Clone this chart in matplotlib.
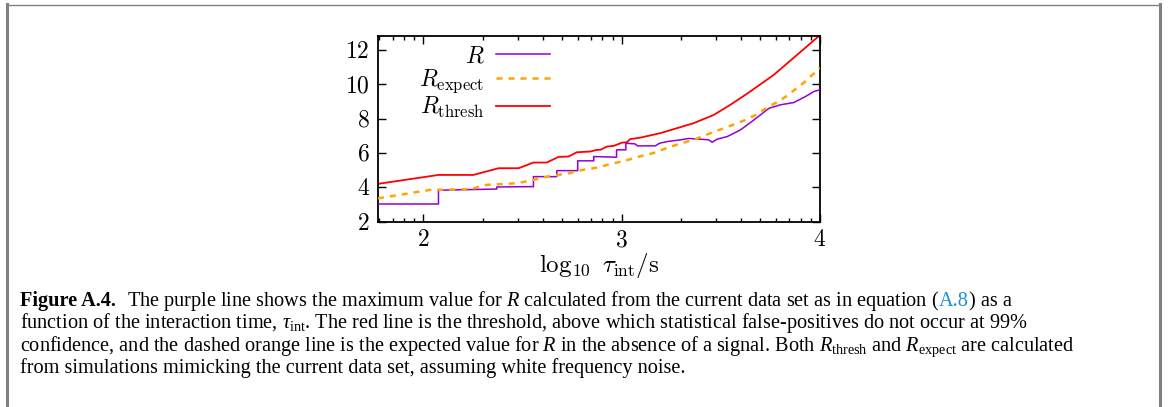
import numpy as np
import matplotlib as mpl
import matplotlib.pyplot as plt
from matplotlib.lines import Line2D
from matplotlib.ticker import LogLocator, NullFormatter, NullLocator

# fonts: Computer Modern look for the plot, Times-like serif for the caption
mpl.rcParams['mathtext.fontset'] = 'cm'
mpl.rcParams['mathtext.rm'] = 'Liberation Serif'
mpl.rcParams['mathtext.it'] = 'Liberation Serif:italic'
mpl.rcParams['mathtext.bf'] = 'Liberation Serif:bold'
mpl.rcParams['font.family'] = 'Liberation Serif'

# data, x = log10(tau_int / s)
r_x = [1.771, 2.076, 2.076, 2.37, 2.37, 2.555, 2.555, 2.673, 2.673, 2.778,
       2.778, 2.859, 2.859, 2.974, 2.974, 3.021, 3.021, 3.066, 3.08, 3.17,
       3.19, 3.229, 3.296, 3.338, 3.397, 3.439, 3.456, 3.481, 3.532, 3.599,
       3.667, 3.743, 3.801, 3.868, 3.927, 3.969, 4.0]
r_y = [3.03, 3.03, 3.83, 3.90, 4.02, 4.04, 4.62, 4.62, 4.97, 4.97,
       5.54, 5.54, 5.79, 5.75, 6.18, 6.18, 6.56, 6.53, 6.41, 6.41,
       6.56, 6.66, 6.76, 6.84, 6.80, 6.76, 6.62, 6.80, 6.95, 7.34,
       7.92, 8.60, 8.80, 8.93, 9.28, 9.57, 9.67]

exp_x = [1.771, 1.90, 2.034, 2.15, 2.236, 2.32, 2.40, 2.471, 2.539, 2.623,
         2.735, 2.802, 2.878, 2.946, 3.018, 3.089, 3.156, 3.224, 3.291, 3.363,
         3.426, 3.493, 3.560, 3.624, 3.675, 3.742, 3.805, 3.851, 3.92, 4.0]
exp_y = [3.36, 3.60, 3.85, 3.87, 3.89, 4.14, 4.19, 4.24, 4.39, 4.62,
         4.82, 5.01, 5.15, 5.36, 5.55, 5.79, 5.98, 6.27, 6.53, 6.76,
         7.05, 7.34, 7.63, 7.92, 8.21, 8.70, 9.09, 9.48, 10.1, 10.95]

thr_x = [1.771, 2.076, 2.252, 2.379, 2.480, 2.555, 2.622, 2.682, 2.732, 2.774,
         2.841, 2.875, 2.892, 2.926, 2.960, 3.002, 3.027, 3.042, 3.094, 3.195,
         3.279, 3.363, 3.464, 3.548, 3.633, 3.767, 3.885, 4.0]
thr_y = [4.20, 4.72, 4.72, 5.11, 5.11, 5.44, 5.44, 5.77, 5.79, 6.04,
         6.08, 6.18, 6.18, 6.37, 6.41, 6.60, 6.62, 6.80, 6.89, 7.15,
         7.44, 7.73, 8.21, 8.80, 9.45, 10.54, 11.71, 12.85]

x_ticks = [2, 3, 4]
y_ticks = [2, 4, 6, 8, 10, 12]

W, H = 1168, 407
fig = plt.figure(figsize=(W / 100, H / 100), dpi=100)
ax = fig.add_axes([378 / W, 1 - 221.7 / H, 442 / W, 185.7 / H])

ax.plot(10 ** np.array(r_x), r_y, color='#9400d3', lw=1.1, label=r'$R$', zorder=3)
ax.plot(10 ** np.array(exp_x), exp_y, color='#ffa500', lw=1.8, ls=(0, (2.4, 2.4)),
        label=r'$R_{\rm expect}$', zorder=4)
ax.plot(10 ** np.array(thr_x), thr_y, color='#ff0000', lw=1.3,
        label=r'$R_{\rm thresh}$', zorder=2)

ax.set_xscale('log')
ax.set_xlim(10 ** 1.771, 10 ** 4)
ax.set_ylim(2, 12.8)
ax.set_xticks([10 ** t for t in x_ticks])
ax.set_xticklabels(['$%d$' % t for t in x_ticks])
ax.xaxis.set_minor_locator(LogLocator(base=10, subs=np.arange(2, 10)))
ax.xaxis.set_minor_formatter(NullFormatter())
ax.set_yticks(y_ticks)
ax.set_yticklabels(['$%d$' % t for t in y_ticks])
ax.yaxis.set_minor_locator(NullLocator())
ax.tick_params(which='both', direction='in', top=True, right=True, labelsize=17, width=1.0)
ax.tick_params(which='major', length=5.5, pad=6)
ax.tick_params(which='minor', length=3)
for s in ax.spines.values():
    s.set_linewidth(1.3)

ax.set_xlabel(r'$\log_{10}\ \tau_{\rm int}/{\rm s}$', fontsize=18, labelpad=0)

leg = ax.legend(loc='upper right', bbox_to_anchor=(0.39, 0.945), frameon=False,
                markerfirst=False, fontsize=17, handlelength=2.3, handletextpad=0.5,
                labelspacing=0.0, borderpad=0, borderaxespad=0)

# outer frame of the figure box
grey = '#808080'
fig.add_artist(Line2D([7 / W, 7 / W], [0, 1 - 4 / H], color=grey, lw=2.2))
fig.add_artist(Line2D([7 / W, 1160 / W], [1 - 4.5 / H, 1 - 4.5 / H], color=grey, lw=1.0))
fig.add_artist(Line2D([1159.5 / W, 1159.5 / W], [0, 1 - 4 / H], color=grey, lw=2.2))

# caption
cap = 14.6
renderer = fig.canvas.get_renderer()


def put_line(parts, x_px, y_px):
    x = x_px
    for txt, kw in parts:
        t = fig.text(x / W, 1 - y_px / H, txt, fontsize=cap, va='baseline',
                     math_fontfamily='custom', **kw)
        x = t.get_window_extent(renderer).x1
    return x


x0 = 20
t = fig.text(x0 / W, 1 - 306 / H, 'Figure A.4.', fontsize=cap, va='baseline', weight='bold')
xb = t.get_window_extent(renderer).x1 + 11
put_line([('The purple line shows the maximum value for $R$ calculated from the current '
           'data set as in equation (', {}),
          ('A.8', {'color': '#1b8fd8'}),
          (') as a', {})], xb, 306)
fig.text(x0 / W, 1 - 328.4 / H,
         r'function of the interaction time, $\tau_{\mathrm{int}}$. The red line is the threshold, '
         'above which statistical false-positives do not occur at 99%',
         fontsize=cap, va='baseline', math_fontfamily='custom')
fig.text(x0 / W, 1 - 350.8 / H,
         r'confidence, and the dashed orange line is the expected value for $R$ in the absence '
         r'of a signal. Both $R_{\mathrm{thresh}}$ and $R_{\mathrm{expect}}$ are calculated',
         fontsize=cap, va='baseline', math_fontfamily='custom')
fig.text(x0 / W, 1 - 373.2 / H,
         'from simulations mimicking the current data set, assuming white frequency noise.',
         fontsize=cap, va='baseline', math_fontfamily='custom')

fig.savefig('out.png', dpi=100)
